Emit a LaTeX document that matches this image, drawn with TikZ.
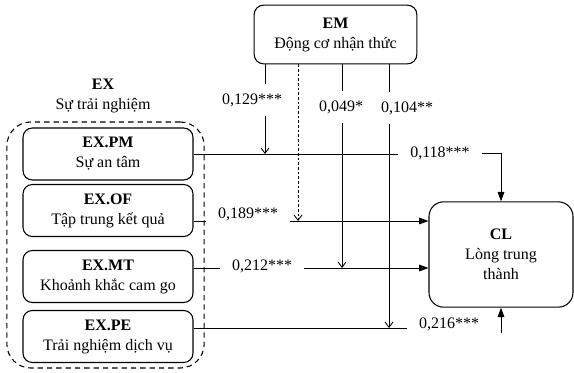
\documentclass[tikz,border=0pt]{standalone}
\usepackage{fontspec}
\setmainfont{Liberation Serif}
\usetikzlibrary{arrows.meta}

\begin{document}
\begin{tikzpicture}[
    x=0.75pt, y=-0.75pt,
    every node/.style={font=\fontsize{12}{15}\selectfont},
    box/.style={draw=black, line width=0.8pt, rounded corners=7pt,
                minimum width=127.5pt, minimum height=39pt,
                align=center, inner sep=1pt},
    grp/.style={draw=black, line width=0.8pt, dash pattern=on 4pt off 3pt,
                rounded corners=18pt, minimum width=148pt, minimum height=184.5pt},
    hcoef/.style={inner xsep=9pt, inner ysep=2pt},
    vcoef/.style={inner xsep=2pt, inner ysep=7pt},
    link/.style={line width=0.65pt},
    marr/.style={link, -{Straight Barb[length=4pt,width=6pt]}},
    farr/.style={link, -{Triangle[length=7pt,width=5pt]}}
]
\useasboundingbox (0,0) rectangle (574,372);
% constructs
\node[box, minimum width=122pt, minimum height=44pt] (EM) at (335.5,34.5) {\textbf{EM}\\Động cơ nhận thức};
\node[align=center] (EXt) at (103,96) {\textbf{EX}\\Sự trải nghiệm};
\node[grp] (EX) at (105.5,245) {};
\node[box] (PM) at (108,154) {\textbf{EX.PM}\\Sự an tâm};
\node[box] (OF) at (108,210.5) {\textbf{EX.OF}\\Tập trung kết quả};
\node[box] (MT) at (108,276.5) {\textbf{EX.MT}\\Khoảnh khắc cam go};
\node[box] (PE) at (108,336.5) {\textbf{EX.PE}\\Trải nghiệm dịch vụ};
\node[box, rounded corners=11pt, minimum width=108pt, minimum height=79pt] (CL) at (501,254.5) {\textbf{CL}\\Lòng trung\\thành};
% coefficients
\node[vcoef] (c129) at (252,100) {0,129***};
\node[vcoef] (c049) at (341,107) {0,049*};
\node[vcoef] (c104) at (407,108) {0,104**};
\node[hcoef] (c118) at (440,153) {0,118***};
\node[hcoef] (c189) at (248,214) {0,189***};
\node[hcoef] (c212) at (262,266) {0,212***};
\node[hcoef] (c216) at (449,324) {0,216***};
% line positions
\coordinate (x129) at (265,0);
\coordinate (xdash) at (298,0);
\coordinate (x049) at (342,0);
\coordinate (x104) at (389,0);
\coordinate (yOF) at (0,221);
\coordinate (yMT) at (0,268);
\coordinate (yPE) at (0,328);
% direct paths
\draw[link] (PM.east) -- (PM.east -| c118.west);
\draw[farr] (c118.east) -| (CL.north);
\draw[link] (OF.east |- yOF) -- (c189.west |- yOF);
\draw[farr] (c189.east |- yOF) -- (CL.west |- yOF);
\draw[link] (MT.east |- yMT) -- (c212.west |- yMT);
\draw[farr] (c212.east |- yMT) -- (CL.west |- yMT);
\draw[link] (PE.east |- yPE) -- (c216.west |- yPE);
\draw[farr] (CL.south |- c216.south) -- (CL.south);
% moderation by EM
\draw[link] (EM.south -| x129) -- (x129 |- c129.north);
\draw[marr] (x129 |- c129.south) -- (x129 |- PM.east);
\draw[marr, dash pattern=on 2pt off 1.5pt] (EM.south -| xdash) -- (xdash |- yOF);
\draw[link] (EM.south -| x049) -- (x049 |- c049.north);
\draw[marr] (x049 |- c049.south) -- (x049 |- yMT);
\draw[link] (EM.south -| x104) -- (x104 |- c104.north);
\draw[marr] (x104 |- c104.south) -- (x104 |- yPE);
\end{tikzpicture}
\end{document}
